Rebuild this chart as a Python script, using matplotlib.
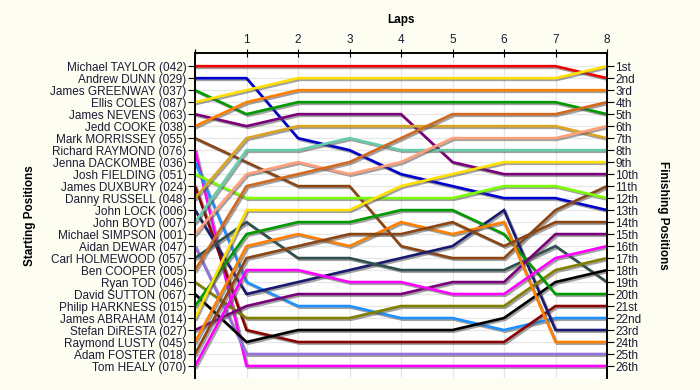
import matplotlib
matplotlib.use("Agg")
import matplotlib.pyplot as plt
import matplotlib.patheffects as pe

laps = [0, 1, 2, 3, 4, 5, 6, 7, 8]

drivers = [
    "Michael TAYLOR (042)", "Andrew DUNN (029)", "James GREENWAY (037)", "Ellis COLES (087)",
    "James NEVENS (063)", "Jedd COOKE (038)", "Mark MORRISSEY (055)", "Richard RAYMOND (076)",
    "Jenna DACKOMBE (036)", "Josh FIELDING (051)", "James DUXBURY (024)", "Danny RUSSELL (048)",
    "John LOCK (006)", "John BOYD (007)", "Michael SIMPSON (001)", "Aidan DEWAR (047)",
    "Carl HOLMEWOOD (057)", "Ben COOPER (005)", "Ryan TOD (046)", "David SUTTON (067)",
    "Philip HARKNESS (015)", "James ABRAHAM (014)", "Stefan DiRESTA (027)", "Raymond LUSTY (045)",
    "Adam FOSTER (018)", "Tom HEALY (070)",
]

positions = [
    [1, 1, 1, 1, 1, 1, 1, 1, 2],
    [2, 2, 7, 8, 10, 11, 12, 12, 13],
    [3, 5, 4, 4, 4, 4, 4, 4, 5],
    [4, 3, 2, 2, 2, 2, 2, 2, 1],
    [5, 6, 5, 5, 5, 9, 10, 10, 10],
    [6, 4, 3, 3, 3, 3, 3, 3, 3],
    [7, 9, 11, 11, 16, 17, 17, 13, 11],
    [8, 26, 26, 26, 26, 26, 26, 26, 26],
    [9, 19, 21, 21, 22, 22, 23, 22, 22],
    [10, 12, 12, 12, 12, 12, 11, 11, 12],
    [11, 23, 24, 24, 24, 24, 24, 21, 21],
    [12, 7, 6, 6, 6, 6, 6, 6, 7],
    [13, 20, 19, 18, 17, 16, 13, 23, 23],
    [14, 8, 8, 7, 8, 8, 8, 8, 8],
    [15, 10, 9, 10, 9, 7, 7, 7, 6],
    [16, 25, 25, 25, 25, 25, 25, 25, 25],
    [17, 14, 17, 17, 18, 18, 18, 16, 19],
    [18, 11, 10, 9, 7, 5, 5, 5, 4],
    [19, 22, 22, 22, 21, 21, 21, 18, 17],
    [20, 24, 23, 23, 23, 23, 22, 19, 18],
    [21, 15, 14, 14, 13, 13, 15, 20, 20],
    [22, 13, 13, 13, 11, 10, 9, 9, 9],
    [23, 21, 20, 20, 20, 19, 19, 15, 15],
    [24, 16, 15, 16, 14, 15, 14, 24, 24],
    [25, 17, 16, 15, 15, 14, 16, 14, 14],
    [26, 18, 18, 19, 19, 20, 20, 17, 16],
]

finish_labels = ["1st", "2nd", "3rd", "4th", "5th", "6th", "7th", "8th", "9th", "10th",
                 "11th", "12th", "13th", "14th", "15th", "16th", "17th", "18th", "19th", "20th",
                 "21st", "22nd", "23rd", "24th", "25th", "26th"]

colors = [
    "#EE0000", "#0000CC", "#009900", "#FFE000", "#7A007A", "#FF8000", "#8B4513", "#FF00FF",
    "#1E90FF", "#7CFC00", "#8B0000", "#DAA520", "#191970", "#66CDAA", "#FFA07A", "#9370DB",
    "#2F4F4F", "#D2691E", "#808000", "#000000", "#009900", "#FFE000", "#7A007A", "#FF8000",
    "#8B4513", "#FF00FF",
]

plt.rcParams["font.family"] = ["Liberation Sans", "DejaVu Sans"]
text_color = "#1a1a33"
fs = 8.5
fig = plt.figure(figsize=(7, 3.9), dpi=100, facecolor="#FEFDF2")
ax = fig.add_axes([195 / 700, 1 - 378 / 390, (607 - 195) / 700, (378 - 53) / 390])
ax.set_facecolor("white")

for pos, col in zip(positions, colors):
    ax.plot(laps, pos, color=col, lw=1.9, solid_joinstyle="miter", zorder=3,
            path_effects=[pe.SimpleLineShadow(offset=(1.2, -1.2), shadow_color="#555555", alpha=0.55),
                          pe.Normal()])

ax.set_xlim(0, 8)
ax.set_ylim(27, -0.1)

ax.xaxis.tick_top()
ax.set_xticks(laps)
ax.set_xticklabels([""] + [str(l) for l in laps[1:]], fontsize=fs, color=text_color)
ax.tick_params(axis="x", direction="inout", length=6, pad=2)
ax.xaxis.set_label_position("top")
ax.set_xlabel("Laps", fontsize=fs, fontweight="bold", labelpad=8)

ax.set_yticks(range(1, 27))
ax.set_yticklabels(drivers, fontsize=fs, color=text_color)
ax.tick_params(axis="y", direction="out", length=5, pad=1)
ax.set_ylabel("Starting Positions", fontsize=fs, fontweight="bold", labelpad=10)

ax2 = ax.twinx()
ax2.set_ylim(ax.get_ylim())
ax2.set_yticks(range(1, 27))
ax2.set_yticklabels(finish_labels, fontsize=fs, color=text_color)
ax2.tick_params(axis="y", direction="out", length=5, pad=1)
ax2.set_ylabel("Finishing Positions", fontsize=fs, fontweight="bold", rotation=270, labelpad=20)

ax.grid(True, color="#E6E6E6", lw=0.9, zorder=0)
ax.set_axisbelow(True)
for a in (ax, ax2):
    a.spines["bottom"].set_visible(False)
    for s in a.spines.values():
        s.set_linewidth(1.2)

fig.savefig("out.png", dpi=100, facecolor=fig.get_facecolor())
